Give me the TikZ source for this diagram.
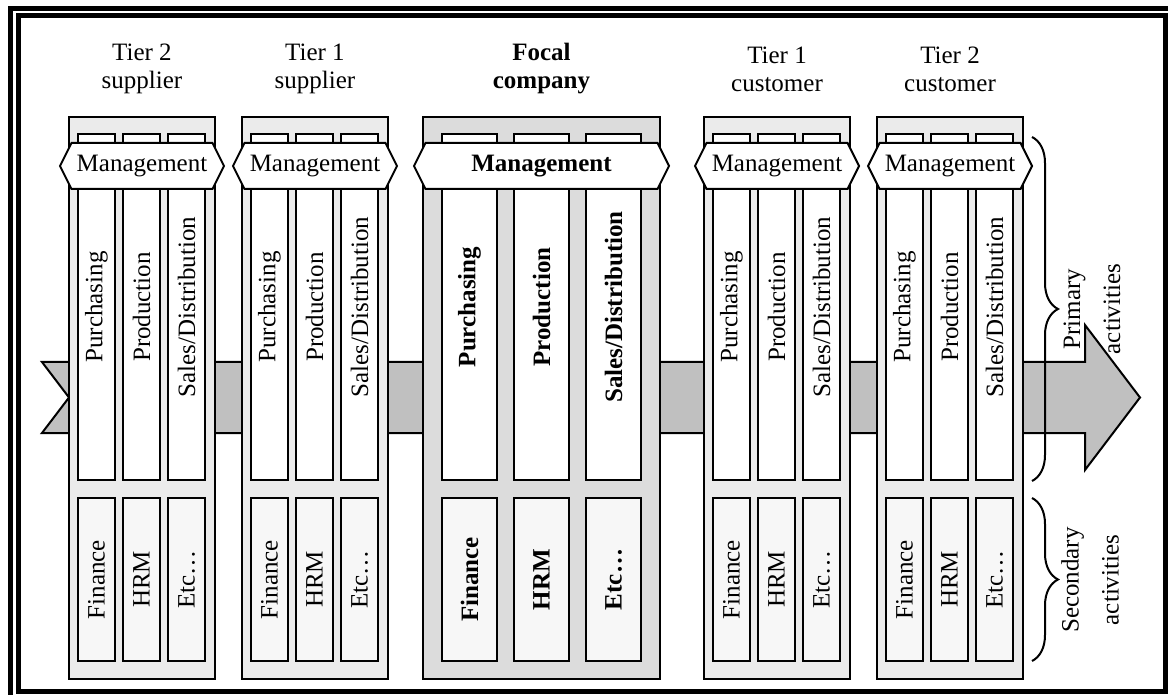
\documentclass[tikz,border=0pt]{standalone}
\usepackage{fontspec}
\setmainfont{Liberation Serif}
\usetikzlibrary{decorations.pathreplacing}
\definecolor{colgray}{HTML}{EBEBEB}
\definecolor{focgray}{HTML}{DCDCDC}
\definecolor{secfill}{HTML}{F7F7F7}
\definecolor{arrowgray}{HTML}{C0C0C0}
\newcommand\lblfont{\fontsize{12.5}{14}\selectfont}
\tikzset{
  colbox/.style={draw, line width=1pt, minimum height=281pt, inner sep=0pt},
  primbox/.style={draw, line width=1pt, fill=white, minimum height=173pt, inner sep=0pt},
  secbox/.style={draw, line width=1pt, fill=secfill, minimum height=81.5pt, inner sep=0pt},
  hexbox/.style={draw, line width=1pt, fill=white},
  framestyle/.style={line width=2.5pt},
  flowarrow/.style={draw, line width=1pt, fill=arrowgray},
  bracestyle/.style={line width=1pt, decorate, decoration={brace, amplitude=13pt}},
  sidelabel/.style={rotate=90, align=center, font=\fontsize{12.5}{20}\selectfont},
}
% #1 id, #2 x, #3 prim text, #4 sec text, #5 font, #6 box width
\newcommand\boxpair[6]{%
  \node[primbox, minimum width=#6*0.5pt] (#1p) at (#2,307) {};
  \node[rotate=90, font=\lblfont#5] (#1pt) at (#2,307) {#3};
  \node[secbox, minimum width=#6*0.5pt] (#1s) at (#2,579.5) {};
  \node[rotate=90, font=\lblfont#5] (#1st) at (#2,579.5) {#4};
}
% #1 id, #2 left x, #3 width, #4 margin, #5 box width, #6 gap, #7 font, #8 fill, #9 title
\newcommand\companycol[9]{%
  \pgfmathsetmacro\colx{#2+#3/2}
  \pgfmathsetmacro\hexl{#2-9}
  \pgfmathsetmacro\hexr{#2+#3+9}
  \pgfmathsetmacro\xa{#2+#4+#5/2}
  \pgfmathsetmacro\xb{\xa+#5+#6}
  \pgfmathsetmacro\xc{\xb+#5+#6}
  \node[colbox, fill=#8, minimum width=#3*0.5pt] (#1) at (\colx,398) {};
  \node[align=center, font=\lblfont#7] (#1title) at (\colx,69) {#9};
  \boxpair{#1a}{\xa}{Purchasing}{Finance}{#7}{#5}
  \boxpair{#1b}{\xb}{Production}{HRM}{#7}{#5}
  \boxpair{#1c}{\xc}{Sales/Distribution}{Etc\ldots}{#7}{#5}
  \draw[hexbox] (\hexl,166) -- (\hexl+11.5,143) -- (\hexr-11.5,143) -- (\hexr,166)
     -- (\hexr-11.5,189) -- (\hexl+11.5,189) -- cycle;
  \node[font=\lblfont#7] (#1mgmt) at (\colx,166) {Management};
}
\begin{document}
\begin{tikzpicture}[x=0.5pt,y=-0.5pt]
\useasboundingbox (0,0) rectangle (1168,695);
\fill[white] (0,0) rectangle (1168,695);
\begin{scope}
  \clip (0,0) rectangle (1168,695);
  \draw[framestyle] (10.5,8.5) rectangle (1185,712);
  \draw[framestyle] (18,15.5) rectangle (1165.5,691.5);
\end{scope}
% flow arrow
\draw[flowarrow] (42,362) -- (1085,362) -- (1085,325) -- (1140,397.5) -- (1085,470)
   -- (1085,433) -- (42,433) -- (69,397.5) -- cycle;
% columns
\companycol{tsa}{69}{146}{9}{37}{8}{}{colgray}{Tier 2\\supplier}
\companycol{tsb}{242}{146}{9}{37}{8}{}{colgray}{Tier 1\\supplier}
\companycol{foc}{423}{237}{19}{55}{17}{\bfseries}{focgray}{Focal\\company}
\companycol{tca}{704}{146}{9}{37}{8}{}{colgray}{Tier 1\\customer}
\companycol{tcb}{877}{146}{9}{37}{8}{}{colgray}{Tier 2\\customer}
% braces
\coordinate (pbtop) at (1032,137);
\coordinate (pbbot) at (1032,481);
\coordinate (sbtop) at (1032,498);
\coordinate (sbbot) at (1032,661);
\draw[bracestyle] (pbtop) -- (pbbot);
\draw[bracestyle] (sbtop) -- (sbbot);
\node[sidelabel] (primary) at (1092,309) {Primary\\activities};
\node[sidelabel] (secondary) at (1090,580) {Secondary\\activities};
\end{tikzpicture}
\end{document}
